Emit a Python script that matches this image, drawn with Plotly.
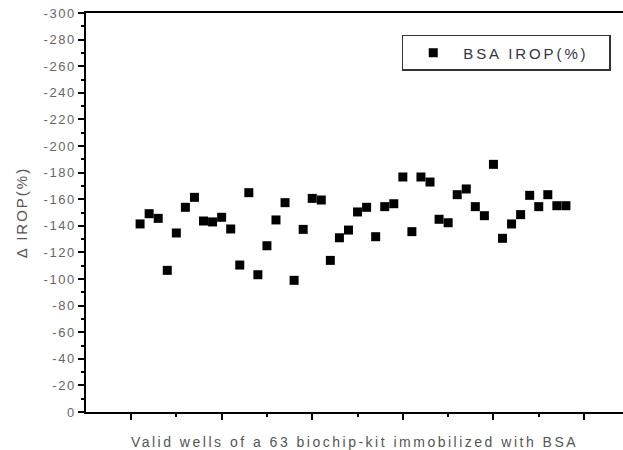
import plotly.graph_objects as go

wells = list(range(1, 49))
irop = [-141.4, -149.1, -145.6, -106.5, -134.6, -153.9, -161.4, -143.6, -142.9, -146.4,
        -137.6, -110.5, -164.9, -103.2, -125.0, -144.4, -157.4, -99.0, -137.3, -160.6,
        -159.4, -114.0, -131.0, -136.8, -150.4, -153.9, -131.8, -154.4, -156.6, -176.7,
        -135.6, -176.7, -172.9, -144.9, -142.3, -163.4, -167.7, -154.4, -147.6, -186.2,
        -130.6, -141.4, -148.4, -162.9, -154.4, -163.4, -155.1, -155.1]

y_tickvals = list(range(-300, 1, 20))
y_ticklabels = [str(v) for v in y_tickvals]

series_name = "BSA IROP(%)"
x_title = "Valid wells of a 63 biochip-kit immobilized with BSA"
y_title = "\u0394 IROP(%)"


def spaced(text, px):
    return '<span style="letter-spacing:%spx">%s</span>' % (px, text)


fig = go.Figure()
fig.add_trace(go.Scatter(
    x=wells, y=irop, mode="markers", name=spaced(series_name, 2.9),
    marker=dict(symbol="square", size=9, color="black", line=dict(width=0)),
))

font_family = "Liberation Sans, Arial, sans-serif"

fig.update_layout(
    width=623, height=450,
    margin=dict(l=86, r=0, t=13, b=38),
    paper_bgcolor="white", plot_bgcolor="white",
    font=dict(family=font_family, color="#555555"),
    showlegend=True,
    legend=dict(
        orientation="h",
        x=0.588, y=0.945, xanchor="left", yanchor="top",
        bordercolor="#333333", borderwidth=1.5, bgcolor="white",
        font=dict(size=15, color="#333344"),
        itemwidth=50, entrywidth=141,
    ),
)

fig.update_xaxes(
    range=[-4.97, 54.3], showgrid=False, zeroline=False,
    showline=True, linecolor="black", linewidth=1.5, mirror=True,
    ticks="outside", ticklen=6, tickwidth=1.5, tickcolor="black",
    tick0=0, dtick=10, showticklabels=False,
    minor=dict(ticks="outside", ticklen=3, tickwidth=1.5, tickcolor="black", dtick=5, tick0=0, showgrid=False),
    title=dict(text=spaced(x_title, 2.5), font=dict(size=14, color="#555555"), standoff=18),
)

fig.update_yaxes(
    range=[0, -300], showgrid=False, zeroline=False,
    showline=True, linecolor="black", linewidth=1.5, mirror=False,
    ticks="outside", ticklen=6, tickwidth=1.5, tickcolor="black",
    tickvals=y_tickvals, ticktext=[spaced(t, 1.5) for t in y_ticklabels],
    tickfont=dict(size=13, color="#666666"),
    minor=dict(ticks="outside", ticklen=3, tickwidth=1.5, tickcolor="black", dtick=10, tick0=0, showgrid=False),
    title=dict(text=spaced(y_title, 2), font=dict(size=15, color="#555555"), standoff=12),
)

fig.write_html(
    "out.html",
    config={"displayModeBar": False},
    post_script="document.body.style.margin='0';document.body.style.overflow='hidden';",
)
